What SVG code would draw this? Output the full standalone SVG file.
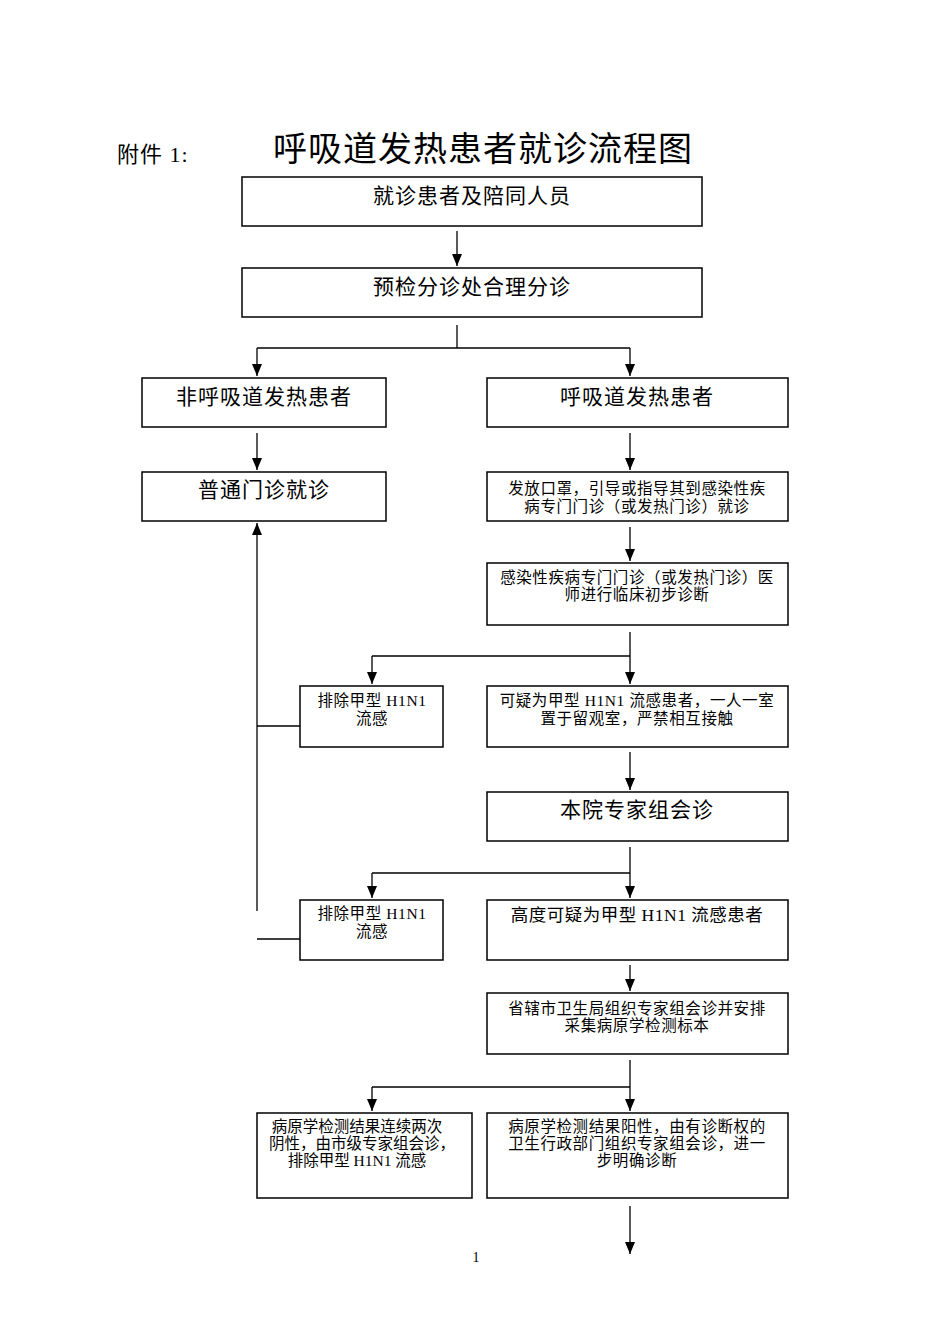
<svg xmlns="http://www.w3.org/2000/svg" width="950" height="1344" viewBox="0 0 950 1344">
<defs>
<marker id="ah" markerWidth="12" markerHeight="10" refX="12" refY="5" orient="auto" markerUnits="userSpaceOnUse" viewBox="0 0 12 10">
<path d="M0,0 L12,5 L0,10 Z" fill="#000"/>
</marker>
<style>
text{font-family:"Liberation Serif","Noto Sans CJK SC",serif;fill:#000;text-anchor:middle}
.box{fill:#fff;stroke:#000;stroke-width:1.5}
.big{font-size:21px;letter-spacing:1px}
.sm{font-size:15.5px;letter-spacing:0.6px}
.sm2{font-size:15.5px;letter-spacing:0px}
.ln{fill:none;stroke:#000;stroke-width:1.3}
</style>
</defs>
<rect width="950" height="1344" fill="#fff"/>
<text x="117" y="162" style="font-size:22px;text-anchor:start;letter-spacing:1px">附件 1:</text>
<text x="483" y="161" style="font-size:34px;letter-spacing:1px">呼吸道发热患者就诊流程图</text>

<g id="connectors">
<line class="ln" x1="457" y1="231" x2="457" y2="266" marker-end="url(#ah)"/>
<polyline class="ln" points="457,325 457,348"/>
<polyline class="ln" points="257,348 630,348"/>
<line class="ln" x1="257" y1="348" x2="257" y2="376" marker-end="url(#ah)"/>
<line class="ln" x1="630" y1="348" x2="630" y2="376" marker-end="url(#ah)"/>
<line class="ln" x1="257" y1="433" x2="257" y2="470" marker-end="url(#ah)"/>
<line class="ln" x1="630" y1="433" x2="630" y2="470" marker-end="url(#ah)"/>
<line class="ln" x1="630" y1="527" x2="630" y2="561" marker-end="url(#ah)"/>
<polyline class="ln" points="630,632 630,656"/>
<polyline class="ln" points="372,656 630,656"/>
<line class="ln" x1="372" y1="656" x2="372" y2="684" marker-end="url(#ah)"/>
<line class="ln" x1="630" y1="656" x2="630" y2="684" marker-end="url(#ah)"/>
<polyline class="ln" points="300,726 257,726"/>
<line class="ln" x1="257" y1="911" x2="257" y2="523" marker-end="url(#ah)"/>
<line class="ln" x1="630" y1="752" x2="630" y2="790" marker-end="url(#ah)"/>
<polyline class="ln" points="630,847 630,873"/>
<polyline class="ln" points="372,873 630,873"/>
<line class="ln" x1="372" y1="873" x2="372" y2="898" marker-end="url(#ah)"/>
<line class="ln" x1="630" y1="873" x2="630" y2="898" marker-end="url(#ah)"/>
<polyline class="ln" points="300,939 257,939"/>
<line class="ln" x1="630" y1="965" x2="630" y2="991" marker-end="url(#ah)"/>
<polyline class="ln" points="630,1060 630,1087"/>
<polyline class="ln" points="372,1087 630,1087"/>
<line class="ln" x1="372" y1="1087" x2="372" y2="1111" marker-end="url(#ah)"/>
<line class="ln" x1="630" y1="1087" x2="630" y2="1111" marker-end="url(#ah)"/>
<line class="ln" x1="630" y1="1206" x2="630" y2="1254" marker-end="url(#ah)"/>
</g>

<g id="n1"><rect class="box" x="242" y="177" width="460" height="49"/><text class="big" x="472" y="203">就诊患者及陪同人员</text></g>
<g id="n2"><rect class="box" x="242" y="268" width="460" height="49"/><text class="big" x="472" y="294">预检分诊处合理分诊</text></g>
<g id="n3"><rect class="box" x="142" y="378" width="244" height="49"/><text class="big" x="264" y="404">非呼吸道发热患者</text></g>
<g id="n4"><rect class="box" x="487" y="378" width="301" height="49"/><text class="big" x="637" y="404">呼吸道发热患者</text></g>
<g id="n5"><rect class="box" x="142" y="472" width="244" height="49"/><text class="big" x="264" y="497">普通门诊就诊</text></g>
<g id="n6"><rect class="box" x="487" y="472" width="301" height="49"/><text class="sm" x="637" y="494">发放口罩，引导或指导其到感染性疾</text><text class="sm" x="637" y="512">病专门门诊（或发热门诊）就诊</text></g>
<g id="n7"><rect class="box" x="487" y="563" width="301" height="62"/><text class="sm" x="637" y="583">感染性疾病专门门诊（或发热门诊）医</text><text class="sm" x="637" y="600">师进行临床初步诊断</text></g>
<g id="n8"><rect class="box" x="300" y="686" width="143" height="61"/><text class="sm" x="372" y="706">排除甲型 H1N1</text><text class="sm" x="372" y="724">流感</text></g>
<g id="n9"><rect class="box" x="487" y="686" width="301" height="61"/><text class="sm" x="637" y="706">可疑为甲型 H1N1 流感患者，一人一室</text><text class="sm" x="637" y="724">置于留观室，严禁相互接触</text></g>
<g id="n10"><rect class="box" x="487" y="792" width="301" height="49"/><text class="big" x="637" y="817">本院专家组会诊</text></g>
<g id="n11"><rect class="box" x="300" y="900" width="143" height="60"/><text class="sm" x="372" y="919">排除甲型 H1N1</text><text class="sm" x="372" y="937">流感</text></g>
<g id="n12"><rect class="box" x="487" y="900" width="301" height="60"/><text x="637" y="921" style="font-size:17.5px;letter-spacing:0.5px">高度可疑为甲型 H1N1 流感患者</text></g>
<g id="n13"><rect class="box" x="487" y="993" width="301" height="61"/><text class="sm" x="637" y="1014">省辖市卫生局组织专家组会诊并安排</text><text class="sm" x="637" y="1031">采集病原学检测标本</text></g>
<g id="n14"><rect class="box" x="257" y="1113" width="215" height="85"/><text class="sm2" x="357" y="1132">病原学检测结果连续两次</text><text class="sm2" x="362" y="1149">阴性，由市级专家组会诊，</text><text class="sm2" x="357" y="1166">排除甲型 H1N1 流感</text></g>
<g id="n15"><rect class="box" x="487" y="1113" width="301" height="85"/><text class="sm" x="637" y="1132">病原学检测结果阳性，由有诊断权的</text><text class="sm" x="637" y="1149">卫生行政部门组织专家组会诊，进一</text><text class="sm" x="637" y="1166">步明确诊断</text></g>
<text x="476" y="1262" style="font-size:14px">1</text>
</svg>
